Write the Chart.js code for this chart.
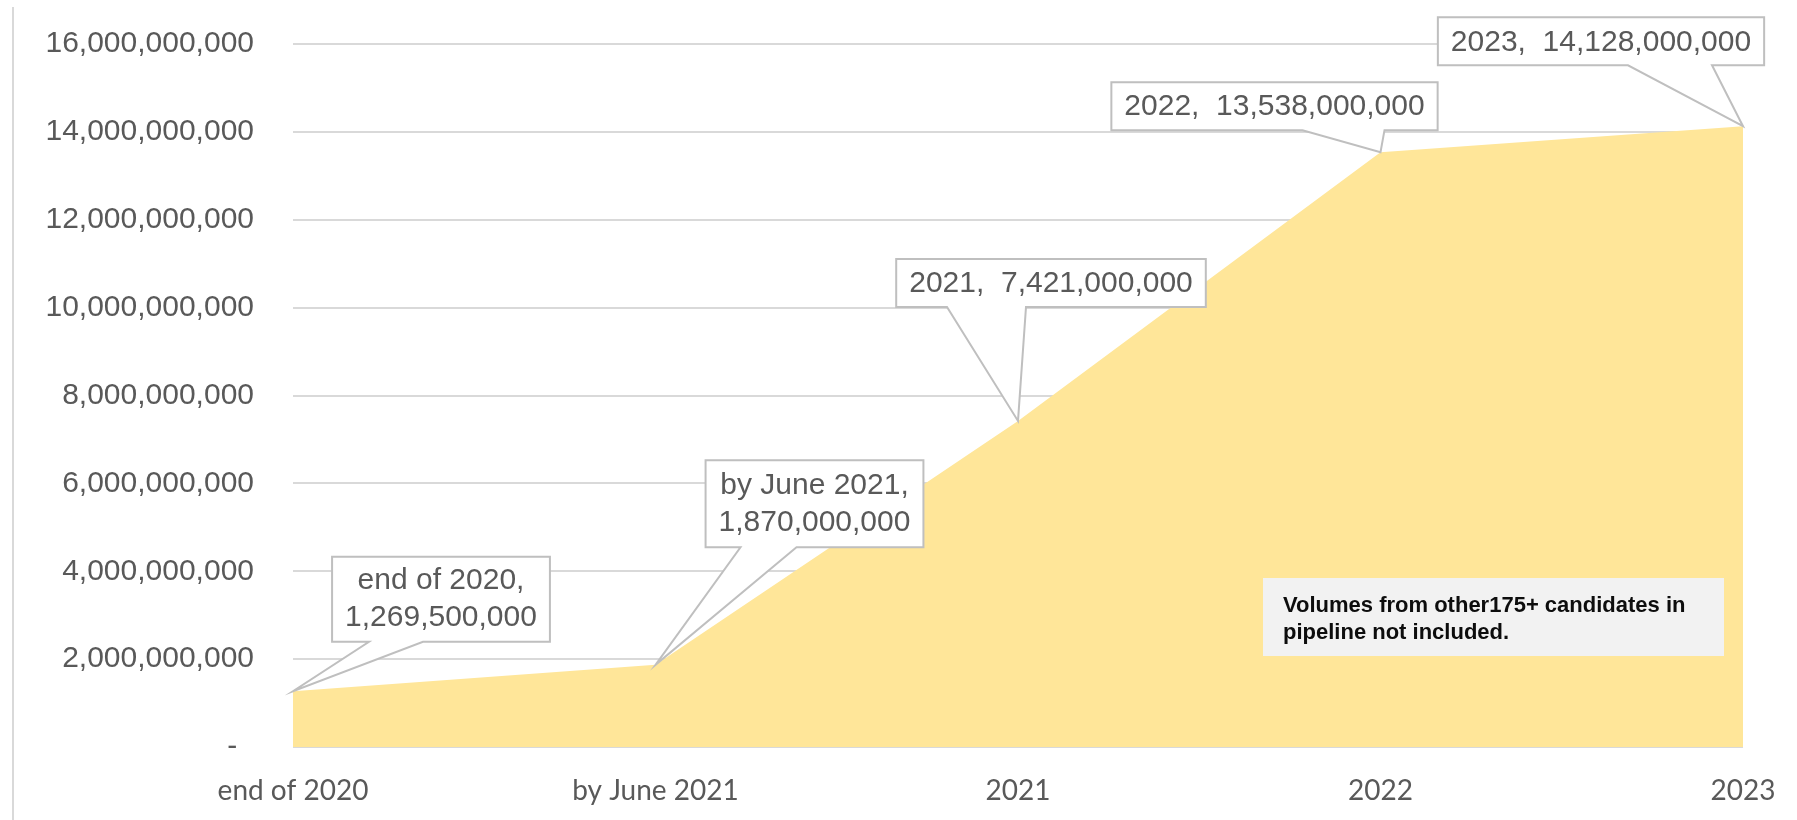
<!DOCTYPE html>
<html>
<head>
<meta charset="utf-8">
<script src="https://cdn.jsdelivr.net/npm/chart.js@4"></script>
<style>
  html, body { margin: 0; padding: 0; background: #fff; }
  #wrap { width: 1797px; height: 820px; }
</style>
</head>
<body>
<div id="wrap"><canvas id="volChart"></canvas></div>
<script>
const years = ['end of 2020', 'by June 2021', '2021', '2022', '2023'];
const volumes = [1269500000, 1870000000, 7421000000, 13538000000, 14128000000];
const yTicks = [0, 2000000000, 4000000000, 6000000000, 8000000000, 10000000000, 12000000000, 14000000000, 16000000000];
const noteText = ['Volumes from other175+ candidates in', 'pipeline not included.'];

const fmt = v => v.toLocaleString('en-US');

// callout boxes: centre offset from the point, box height, pointer base (relative to box centre)
const callouts = [
  { i: 0, dx: 148, dy: -92, h: 85, base: [-72, -18], lines: 2 },
  { i: 1, dx: 159, dy: -161, h: 87, base: [-74, -18], lines: 2 },
  { i: 2, dx: 33, dy: -138, h: 48, base: [-104, -25], lines: 1 },
  { i: 3, dx: -106, dy: -46, h: 48, base: [28, 110], lines: 1 },
  { i: 4, dx: -142, dy: -85, h: 48, base: [27, 111], lines: 1 }
];

const calloutPlugin = {
  id: 'callouts',
  beforeDraw(chart) {
    const c = chart.ctx;
    c.save();
    c.strokeStyle = '#d9d9d9';
    c.lineWidth = 2;
    c.beginPath();
    c.moveTo(13, 7);
    c.lineTo(13, 820);
    c.stroke();
    c.restore();
  },
  afterDatasetsDraw(chart) {
    const c = chart.ctx;
    const xs = chart.scales.x, ys = chart.scales.y;
    c.save();
    c.font = '30px "Liberation Sans", Arial, sans-serif';
    c.textAlign = 'center';
    c.textBaseline = 'middle';
    callouts.forEach(co => {
      const px = xs.getPixelForValue(co.i);
      const py = ys.getPixelForValue(volumes[co.i]);
      const text = co.lines === 2
        ? [years[co.i] + ',', fmt(volumes[co.i])]
        : [years[co.i] + ',  ' + fmt(volumes[co.i])];
      const w = Math.max(...text.map(t => c.measureText(t).width)) + 26;
      const cx = px + co.dx, cy = py + co.dy;
      const l = cx - w / 2, r = cx + w / 2, t = cy - co.h / 2, b = cy + co.h / 2;
      c.beginPath();
      c.moveTo(l, t);
      c.lineTo(r, t);
      c.lineTo(r, b);
      c.lineTo(cx + co.base[1], b);
      c.lineTo(px, py);
      c.lineTo(cx + co.base[0], b);
      c.lineTo(l, b);
      c.closePath();
      c.fillStyle = '#ffffff';
      c.fill();
      c.strokeStyle = '#bfbfbf';
      c.lineWidth = 2;
      c.stroke();
      c.fillStyle = '#595959';
      if (text.length === 2) {
        c.fillText(text[0], cx, cy - 18);
        c.fillText(text[1], cx, cy + 19);
      } else {
        c.fillText(text[0], cx, cy + 1);
      }
    });

    // note box in the lower right
    const area = chart.chartArea;
    const nl = area.right - 480, nt = area.bottom - 169;
    c.fillStyle = '#f2f2f2';
    c.fillRect(nl, nt, 461, 78);
    c.fillStyle = '#0d0d0d';
    c.font = 'bold 22px "Liberation Sans", Arial, sans-serif';
    c.textAlign = 'left';
    c.fillText(noteText[0], nl + 20, nt + 28);
    c.fillText(noteText[1], nl + 20, nt + 55);
    c.restore();
  }
};

const ctx = document.getElementById('volChart').getContext('2d');

const volChart = new Chart(ctx, {
  type: 'line',
  data: {
    labels: years,
    datasets: [{
      data: volumes,
      backgroundColor: '#ffe699',
      borderWidth: 0,
      fill: 'origin',
      tension: 0,
      pointRadius: 0
    }]
  },
  options: {
    responsive: true,
    maintainAspectRatio: false,
    animation: false,
    layout: { padding: { top: 44, right: 54, bottom: 0, left: 0 } },
    scales: {
      x: {
        grid: { display: false },
        border: { display: false },
        ticks: {
          color: '#595959',
          font: { family: 'Lato', size: 28 },
          padding: 19,
          maxRotation: 0,
          autoSkip: false
        },
        afterFit(scale) { scale.height = 73; }
      },
      y: {
        min: 0,
        max: 16000000000,
        afterBuildTicks(scale) { scale.ticks = yTicks.map(v => ({ value: v })); },
        grid: { color: '#d9d9d9', lineWidth: 2, drawTicks: false },
        border: { display: false },
        ticks: {
          color: '#595959',
          font: { family: '"Liberation Sans"', size: 30 },
          padding: 39,
          callback: v => v === 0 ? '-  ' : fmt(v)
        },
        afterFit(scale) {
          scale.width = 293;
          scale.paddingTop = 0;
          scale.paddingBottom = 0;
        }
      }
    },
    plugins: {
      legend: { display: false },
      tooltip: { enabled: false }
    }
  },
  plugins: [calloutPlugin]
});
</script>
</body>
</html>
